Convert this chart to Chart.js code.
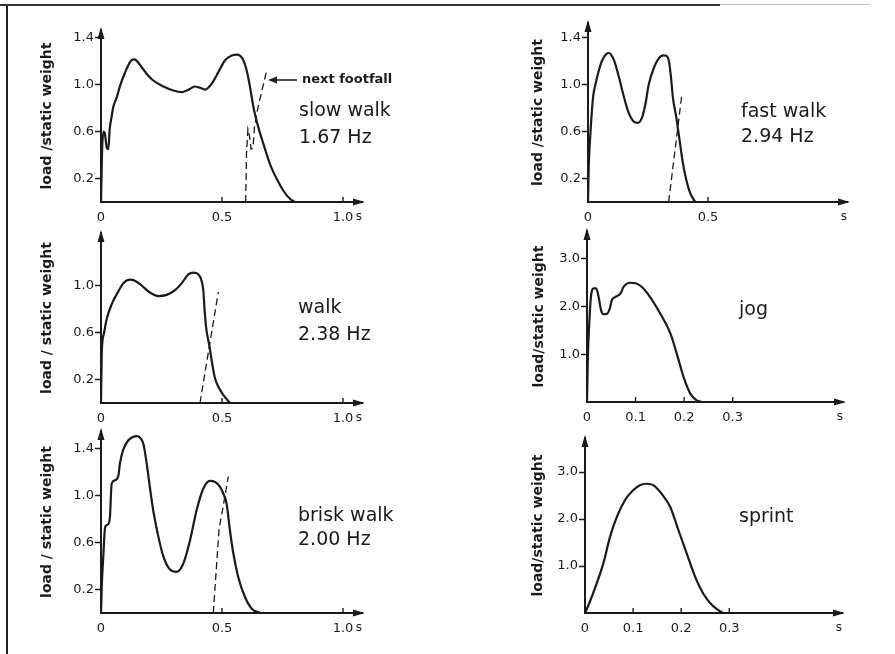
<!DOCTYPE html>
<html><head><meta charset="utf-8">
<script src="https://cdn.jsdelivr.net/npm/chart.js@4.4.1/dist/chart.umd.min.js"></script>
<style>
html,body{margin:0;padding:0;background:#fff;}
body{width:895px;height:654px;position:relative;overflow:hidden;}
canvas{position:absolute;}
.bl{position:absolute;left:6px;top:4px;width:2px;height:650px;background:#222;}
.bt{position:absolute;left:0;top:4px;width:720px;height:2px;background:#333;}
.bt2{position:absolute;left:720px;top:4px;width:150px;height:1px;background:#bbb;}
</style></head><body>
<div class="bl"></div><div class="bt"></div><div class="bt2"></div>
<script>
// ---- data (time in s, load / static weight) ----
const slowWalkTime = [0, 0.004, 0.010, 0.016, 0.024, 0.030, 0.036, 0.045, 0.051, 0.065, 0.079, 0.099, 0.120, 0.134, 0.147, 0.168, 0.189, 0.216, 0.258, 0.299, 0.333, 0.361, 0.388, 0.409, 0.430, 0.457, 0.485, 0.512, 0.540, 0.563, 0.585, 0.602, 0.616, 0.630, 0.650, 0.671, 0.698, 0.726, 0.753, 0.781, 0.800];
const slowWalkLoad = [0, 0.40, 0.60, 0.58, 0.46, 0.45, 0.62, 0.74, 0.81, 0.89, 0.99, 1.10, 1.19, 1.213, 1.204, 1.148, 1.09, 1.034, 0.983, 0.949, 0.935, 0.955, 0.983, 0.972, 0.957, 1.006, 1.105, 1.204, 1.247, 1.255, 1.219, 1.12, 0.977, 0.807, 0.637, 0.495, 0.325, 0.197, 0.098, 0.027, 0];
const slowWalkNextTime = [0.598, 0.601, 0.607, 0.613, 0.620, 0.628, 0.634, 0.645, 0.665, 0.685];
const slowWalkNextLoad = [0, 0.40, 0.62, 0.57, 0.45, 0.46, 0.63, 0.77, 0.95, 1.12];

const fastWalkTime = [0, 0.003, 0.010, 0.021, 0.031, 0.044, 0.058, 0.076, 0.086, 0.096, 0.110, 0.128, 0.149, 0.169, 0.188, 0.207, 0.225, 0.239, 0.253, 0.274, 0.294, 0.313, 0.326, 0.3375, 0.346, 0.354, 0.368, 0.382, 0.396, 0.410, 0.426, 0.447];
const fastWalkLoad = [0, 0.30, 0.58, 0.89, 1.0, 1.11, 1.20, 1.26, 1.268, 1.254, 1.197, 1.07, 0.90, 0.76, 0.69, 0.673, 0.718, 0.83, 1.0, 1.14, 1.22, 1.248, 1.245, 1.197, 1.056, 0.887, 0.718, 0.52, 0.324, 0.183, 0.076, 0];
const fastWalkNextTime = [0.336, 0.392];
const fastWalkNextLoad = [0, 0.93];

const walkTime = [0, 0.003, 0.012, 0.023, 0.044, 0.065, 0.092, 0.120, 0.140, 0.168, 0.202, 0.237, 0.271, 0.306, 0.333, 0.361, 0.382, 0.402, 0.416, 0.423, 0.427, 0.434, 0.448, 0.461, 0.471, 0.485, 0.506, 0.533];
const walkLoad = [0, 0.42, 0.59, 0.71, 0.84, 0.925, 1.018, 1.05, 1.04, 1.0, 0.94, 0.91, 0.92, 0.96, 1.018, 1.095, 1.11, 1.095, 1.038, 0.953, 0.825, 0.65, 0.485, 0.315, 0.21, 0.139, 0.068, 0];
const walkNextTime = [0.409, 0.485];
const walkNextLoad = [0, 0.946];

const briskWalkTime = [0, 0.003, 0.010, 0.017, 0.030, 0.037, 0.044, 0.058, 0.072, 0.078, 0.092, 0.113, 0.134, 0.148, 0.162, 0.175, 0.189, 0.202, 0.216, 0.237, 0.258, 0.285, 0.313, 0.340, 0.368, 0.395, 0.423, 0.450, 0.471, 0.492, 0.505, 0.519, 0.533, 0.547, 0.567, 0.595, 0.623, 0.657];
const briskWalkLoad = [0, 0.22, 0.50, 0.73, 0.755, 0.82, 1.10, 1.13, 1.17, 1.27, 1.39, 1.47, 1.50, 1.505, 1.49, 1.44, 1.27, 1.07, 0.87, 0.65, 0.48, 0.37, 0.35, 0.42, 0.62, 0.875, 1.06, 1.125, 1.116, 1.074, 1.017, 0.93, 0.70, 0.506, 0.307, 0.136, 0.037, 0];
const briskWalkNextTime = [0.464, 0.488, 0.499, 0.526];
const briskWalkNextLoad = [0, 0.72, 0.84, 1.16];

const jogTime = [0, 0.002, 0.005, 0.008, 0.014, 0.019, 0.024, 0.029, 0.034, 0.041, 0.047, 0.051, 0.058, 0.069, 0.075, 0.089, 0.100, 0.113, 0.130, 0.151, 0.172, 0.185, 0.199, 0.213, 0.226, 0.237];
const jogLoad = [0, 1.01, 1.71, 2.20, 2.38, 2.38, 2.20, 1.92, 1.84, 1.85, 1.96, 2.13, 2.20, 2.27, 2.41, 2.50, 2.49, 2.41, 2.20, 1.85, 1.43, 1.01, 0.52, 0.17, 0.035, 0];

const sprintTime = [0, 0.007, 0.024, 0.038, 0.052, 0.066, 0.083, 0.100, 0.114, 0.128, 0.142, 0.159, 0.177, 0.194, 0.211, 0.229, 0.246, 0.263, 0.277, 0.288];
const sprintLoad = [0, 0.16, 0.62, 1.05, 1.62, 2.04, 2.40, 2.61, 2.72, 2.75, 2.72, 2.54, 2.26, 1.77, 1.28, 0.77, 0.41, 0.18, 0.06, 0];

// ---- tick labels ----
const walkLoadTicks = [0.2, 0.6, 1.0, 1.4];
const walkLoadTicksShort = [0.2, 0.6, 1.0];
const runLoadTicks = [1.0, 2.0, 3.0];
const walkTimeTicks = [0, 0.5, 1.0];
const fastWalkTimeTicks = [0, 0.5];
const runTimeTicks = [0, 0.1, 0.2, 0.3];

// ---- layout (pixel geometry of each panel) ----
const panels = [
  {axisX:101, axisY:202, right:362, top:30, pxS:242, pxU:117.5, padRight:60, titleX:47,
   time:slowWalkTime, load:slowWalkLoad, nTime:slowWalkNextTime, nLoad:slowWalkNextLoad,
   xTicks:walkTimeTicks, yTicks:walkLoadTicks, yTitle:'load /static weight',
   notes:[['slow walk',299,111],['1.67 Hz',299,138]], footfall:true},
  {axisX:588, axisY:202, right:847, top:23, pxS:240, pxU:117.5, padRight:10, titleX:538,
   time:fastWalkTime, load:fastWalkLoad, nTime:fastWalkNextTime, nLoad:fastWalkNextLoad,
   xTicks:fastWalkTimeTicks, yTicks:walkLoadTicks, yTitle:'load /static weight',
   notes:[['fast walk',741,112],['2.94 Hz',741,137]]},
  {axisX:101, axisY:403, right:362, top:233, pxS:242, pxU:117.5, padRight:60, titleX:47,
   time:walkTime, load:walkLoad, nTime:walkNextTime, nLoad:walkNextLoad,
   xTicks:walkTimeTicks, yTicks:walkLoadTicksShort, yTitle:'load / static weight',
   notes:[['walk',298,308],['2.38 Hz',298,335]]},
  {axisX:587, axisY:402, right:843, top:231, pxS:485.6, pxU:47.7, padRight:10, titleX:539,
   time:jogTime, load:jogLoad,
   xTicks:runTimeTicks, yTicks:runLoadTicks, yTitle:'load/static weight',
   notes:[['jog',739,310]]},
  {axisX:101, axisY:613, right:362, top:431, pxS:242, pxU:117.5, padRight:60, titleX:47,
   time:briskWalkTime, load:briskWalkLoad, nTime:briskWalkNextTime, nLoad:briskWalkNextLoad,
   xTicks:walkTimeTicks, yTicks:walkLoadTicks, yTitle:'load / static weight',
   notes:[['brisk walk',298,516],['2.00 Hz',298,540]]},
  {axisX:585, axisY:613, right:842, top:438, pxS:481, pxU:47, padRight:10, titleX:538,
   time:sprintTime, load:sprintLoad,
   xTicks:runTimeTicks, yTicks:runLoadTicks, yTitle:'load/static weight',
   notes:[['sprint',739,517]]}
];

const INK = '#1a1a1a';
const YW = 101, PT = 8, XH = 30;
const pts = (t, v) => t.map((x, i) => ({x, y: v[i]}));
const fmtX = v => v === 0 ? '0' : v.toFixed(1);

panels.forEach(p => {
  const cLeft = p.axisX - YW, cTop = p.top - PT;
  const W = YW + (p.right - p.axisX) + p.padRight;
  const H = PT + (p.axisY - p.top) + XH;
  const cv = document.createElement('canvas');
  cv.width = W; cv.height = H;
  cv.style.left = cLeft + 'px'; cv.style.top = cTop + 'px';
  cv.style.width = W + 'px'; cv.style.height = H + 'px';
  document.body.appendChild(cv);

  const datasets = [{data: pts(p.time, p.load), borderColor: INK, borderWidth: 2.2, pointRadius: 0,
                     cubicInterpolationMode: 'monotone', fill: false}];
  if (p.nTime) datasets.push({data: pts(p.nTime, p.nLoad), borderColor: INK, borderWidth: 1.3,
                     borderDash: [7, 4], pointRadius: 0, tension: 0, fill: false});

  const decor = {
    id: 'decor',
    afterDraw(chart) {
      const ctx = chart.ctx, a = chart.chartArea, xs = chart.scales.x;
      ctx.save();
      ctx.fillStyle = INK; ctx.strokeStyle = INK;
      // arrowheads
      ctx.beginPath();
      ctx.moveTo(a.right + 3, a.bottom); ctx.lineTo(a.right - 9, a.bottom - 3.5); ctx.lineTo(a.right - 9, a.bottom + 3.5); ctx.closePath(); ctx.fill();
      ctx.beginPath();
      ctx.moveTo(a.left, a.top - 3); ctx.lineTo(a.left - 3.5, a.top + 9); ctx.lineTo(a.left + 3.5, a.top + 9); ctx.closePath(); ctx.fill();
      // inward x tick marks
      ctx.lineWidth = 1.4;
      p.xTicks.forEach(v => { if (v > 0) { const px = xs.getPixelForValue(v); ctx.beginPath(); ctx.moveTo(px, a.bottom); ctx.lineTo(px, a.bottom - 5); ctx.stroke(); } });
      // annotations
      ctx.font = '19px "DejaVu Sans"'; ctx.textBaseline = 'middle'; ctx.textAlign = 'left';
      p.notes.forEach(([t, x, y]) => ctx.fillText(t, x - cLeft, y - cTop));
      if (p.footfall) {
        ctx.font = 'bold 13px "DejaVu Sans"';
        ctx.fillText('next footfall', 302 - cLeft, 80 - cTop);
        ctx.lineWidth = 1.6;
        ctx.beginPath(); ctx.moveTo(297 - cLeft, 80 - cTop); ctx.lineTo(275 - cLeft, 80 - cTop); ctx.stroke();
        ctx.beginPath(); ctx.moveTo(268 - cLeft, 80 - cTop); ctx.lineTo(277 - cLeft, 76.5 - cTop); ctx.lineTo(277 - cLeft, 83.5 - cTop); ctx.closePath(); ctx.fill();
      }
      ctx.restore();
    }
  };

  new Chart(cv, {
    type: 'line',
    data: {datasets},
    options: {
      responsive: false, animation: false, devicePixelRatio: 1,
      layout: {padding: {top: PT, right: p.padRight, left: 0, bottom: 0}},
      plugins: {legend: {display: false}, tooltip: {enabled: false}},
      scales: {
        x: {
          type: 'linear', position: 'bottom', min: 0, max: (p.right - p.axisX) / p.pxS,
          afterBuildTicks: s => { s.ticks = p.xTicks.map(v => ({value: v})); },
          afterFit: s => { s.height = XH; s.paddingLeft = 0; s.paddingRight = 0; },
          grid: {display: true, drawOnChartArea: false, drawTicks: false},
          border: {display: true, color: INK, width: 2},
          ticks: {autoSkip: false, maxRotation: 0, padding: 8, color: INK,
                  font: {family: 'DejaVu Sans', size: 13}, callback: v => fmtX(v)},
          title: {display: true, text: 's', align: 'end', padding: {top: 0, bottom: 8},
                  color: INK, font: {family: 'DejaVu Sans', size: 12}}
        },
        y: {
          type: 'linear', position: 'left', min: 0, max: (p.axisY - p.top) / p.pxU,
          afterBuildTicks: s => { s.ticks = p.yTicks.map(v => ({value: v})); },
          afterFit: s => { s.width = YW; s.paddingTop = 0; s.paddingBottom = 0; },
          grid: {display: true, drawOnChartArea: false, drawTicks: true, tickLength: 6, tickColor: INK, tickWidth: 1.5},
          border: {display: true, color: INK, width: 2},
          ticks: {autoSkip: false, padding: 1, color: INK,
                  font: {family: 'DejaVu Sans', size: 13}, callback: v => v.toFixed(1)},
          title: {display: true, text: p.yTitle, padding: {top: p.titleX - cLeft - 8.4, bottom: 0},
                  color: INK, font: {family: 'DejaVu Sans', size: 14, weight: 'bold'}}
        }
      }
    },
    plugins: [decor]
  });
});
</script>
</body></html>
